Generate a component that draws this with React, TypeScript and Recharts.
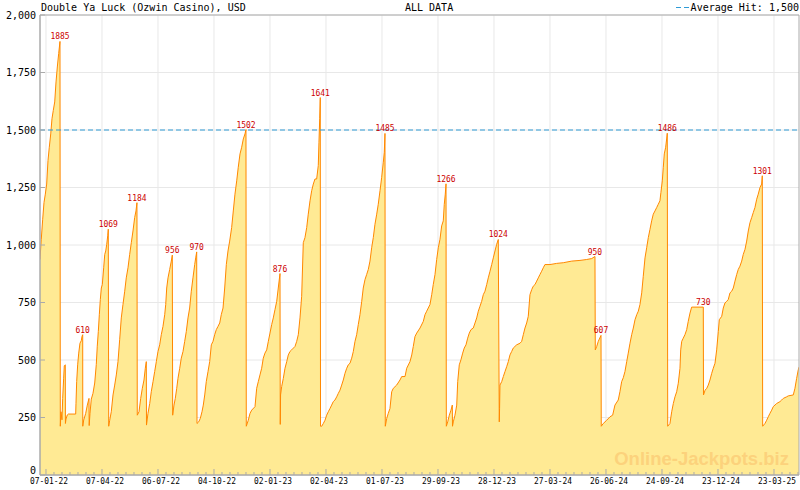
import { AreaChart, Area, XAxis, YAxis, CartesianGrid, ReferenceLine, ReferenceDot, ReferenceArea } from 'recharts'

// days since 07-01-22 and the jackpot amount (USD) on that day
const DAY = [
  -9.7, -7.6, -5.3, -3.2, -1.1, 1.1, 3.2, 5.3, 7.6, 9.6, 11.7, 14.0, 16.1, 18.2, 20.4, 22.5,
  23.0, 24.1, 25.7, 26.8, 28.4, 29.4, 31.0, 31.2, 32.1, 34.2, 35.8, 47.7, 48.2, 49.3, 50.9, 52.6, 54.6, 56.7, 57.9, 59.0,
  59.1, 60.6, 63.8, 66.4, 69.1, 69.4, 70.7, 72.8, 75.5, 78.3, 80.8, 82.4, 84.1, 85.7, 87.3, 88.9, 90.5, 92.7, 94.4, 96.0, 97.6, 99.2, 100.1,
  100.8, 102.4, 104.9, 107.7, 110.4, 113.0, 115.7, 118.4, 121.0, 123.7, 126.5, 129.0, 131.8, 134.5, 137.1, 139.8, 142.5, 144.6, 146.2,
  146.7, 149.5, 152.2, 154.8, 157.5, 159.6, 161.2, 161.5, 163.9, 166.7, 169.2, 172.0, 174.7, 177.3, 180.0, 182.7, 185.3, 188.0, 190.8, 192.4, 194.0, 196.1, 198.8, 201.4, 203.0,
  203.6, 205.7, 207.8, 210.1, 212.1, 214.9, 217.4, 220.2, 222.9, 225.5, 228.2, 230.9, 233.5, 236.2, 239.0, 240.6, 242.2,
  242.7, 245.4, 248.0, 250.7, 252.8, 255.1, 257.6, 260.4, 263.1, 265.7, 268.4, 271.1, 273.7, 276.4, 279.2, 281.7, 284.5, 287.2, 289.8, 292.5, 295.2, 298.4, 301.0, 303.7, 306.5, 309.0, 311.8, 314.5, 317.1, 319.8, 321.4,
  321.9, 325.1, 327.9, 330.6, 335.9, 338.6, 341.2, 343.9, 346.6, 349.2, 351.9, 354.7, 357.3, 360.0, 362.7, 365.3, 368.0, 370.8, 373.3, 376.1,
  376.5, 377.0, 378.8, 381.4, 384.1, 386.9, 389.4, 392.1, 394.8, 400.2, 402.9, 405.5, 408.2, 410.9, 413.5, 416.2, 419.0, 421.5, 424.3, 427.0, 429.6, 432.3, 435.0, 437.6, 438.7, 439.9, 440.8,
  441.2, 443.1, 445.7, 448.4, 451.1, 453.7, 456.4, 459.1, 461.7, 464.4, 467.2, 469.8, 472.5, 475.2, 477.8, 480.5, 483.3, 485.8, 488.6, 491.3, 493.9, 496.6, 499.3, 501.9, 504.6, 507.4, 509.9, 512.7, 515.4, 518.0, 520.7, 523.4, 526.0, 528.7, 531.5, 534.0, 536.8, 539.5, 542.1, 543.7, 544.8,
  545.3, 547.6, 550.1, 552.8, 555.6, 558.2, 563.6, 568.9, 571.7, 577.0, 579.7, 585.0, 587.8, 590.3, 593.0, 595.8, 601.1, 606.4, 609.1, 611.8, 617.1, 619.9, 622.4, 625.2, 627.9, 630.5, 633.2, 635.9, 638.5, 640.1, 641.7, 642.9,
  643.4, 645.6, 648.2, 650.9, 653.0, 653.3, 654.6, 657.3, 660.1, 661.7, 664.2, 666.9, 669.7, 672.2, 675.0, 677.7, 680.3, 683.0, 686.7, 689.5, 692.2, 694.8, 697.5, 700.2, 702.8, 705.5, 708.3, 710.8, 713.6, 716.3, 718.9, 721.6, 724.3, 726.9,
  728.5, 729.0, 729.6, 732.4, 735.0, 737.7, 740.4, 743.0, 745.7, 748.4, 751.0, 753.7, 756.5, 761.8, 764.5, 767.1, 769.8, 772.5, 775.1, 777.8, 780.6, 783.1, 785.9, 788.6, 791.2, 793.9, 796.6, 799.2, 801.9, 810.0, 820.7, 831.4, 844.9, 858.2, 869.0, 877.0, 882.3,
  882.8, 885.1, 887.6, 892.0,
  892.4, 895.6, 901.1, 906.4, 910.7, 914.4, 919.7, 922.4, 925.2, 927.8, 930.5, 933.3, 935.8, 938.6, 941.3, 943.9, 946.6, 949.4, 951.9, 954.6, 957.4, 959.9, 962.7, 965.4, 968.0, 970.7, 973.4, 976.0, 978.7, 981.5, 984.0, 986.7, 988.3, 990.5, 992.1, 993.7, 995.9, 997.5, 998.5,
  999.2, 1002.8, 1005.6, 1008.2, 1010.9, 1013.6, 1016.2, 1018.9, 1020.1, 1021.7, 1024.2, 1026.9, 1029.7, 1032.2, 1035.0, 1037.7, 1056.4,
  1056.7, 1059.3, 1062.0, 1064.4, 1067.1, 1069.9, 1072.4, 1075.2, 1077.9, 1080.5, 1082.1, 1086.0, 1088.5, 1091.2, 1094.0, 1096.5, 1099.3, 1102.0, 1104.6, 1107.3, 1110.1, 1112.6, 1115.3, 1118.1, 1120.6, 1123.4, 1126.1, 1128.7, 1131.4, 1134.1, 1136.7, 1139.4, 1142.2, 1144.7, 1147.5, 1150.2, 1151.2,
  1151.8, 1155.5, 1158.2, 1160.8, 1163.5, 1166.3, 1168.8, 1171.6, 1174.3, 1179.6, 1182.4, 1184.9, 1190.4, 1192.9, 1201.0, 1203.7, 1206.4, 1209.0, 1210.5,
]

const USD = [
  937, 1025, 1112, 1185, 1221, 1265, 1367, 1425, 1483, 1549, 1585, 1622, 1709, 1774, 1833, 1885,
  212, 275, 240, 333, 421, 475, 479, 224, 243, 261, 265, 265, 312, 406, 479, 530, 573, 584, 603, 610,
  212, 239, 268, 304, 333, 215, 268, 330, 355, 400, 480, 560, 624, 697, 763, 813, 828, 901, 959, 974, 1003, 1040, 1069,
  212, 238, 275, 348, 391, 435, 493, 588, 683, 741, 799, 857, 901, 959, 1010, 1061, 1119, 1148, 1184,
  260, 275, 333, 377, 413, 464, 493, 217, 268, 311, 362, 406, 450, 493, 537, 566, 610, 646, 697, 741, 813, 857, 894, 930, 956,
  260, 304, 333, 377, 420, 464, 508, 537, 581, 624, 683, 726, 799, 857, 915, 944, 970,
  224, 231, 246, 275, 304, 348, 406, 450, 493, 566, 581, 610, 632, 646, 661, 697, 726, 813, 915, 974, 1017, 1076, 1148, 1221, 1279, 1338, 1396, 1425, 1461, 1483, 1502,
  212, 238, 268, 282, 297, 377, 406, 435, 464, 508, 530, 544, 581, 617, 654, 683, 719, 755, 813, 876,
  220, 348, 385, 420, 464, 493, 522, 537, 544, 559, 581, 610, 683, 777, 1010, 1032, 1076, 1134, 1192, 1236, 1265, 1287, 1287, 1345, 1447, 1549, 1641,
  212, 212, 224, 238, 260, 275, 289, 304, 319, 326, 340, 355, 369, 391, 413, 442, 464, 479, 486, 508, 537, 581, 610, 654, 697, 755, 813, 850, 872, 894, 930, 988, 1032, 1090, 1134, 1177, 1236, 1294, 1360, 1403, 1485,
  212, 246, 268, 289, 362, 377, 391, 413, 428, 428, 464, 493, 522, 559, 602, 617, 639, 668, 697, 712, 741, 784, 828, 872, 937, 988, 1025, 1083, 1105, 1177, 1221, 1266,
  212, 231, 260, 282, 304, 212, 231, 260, 304, 406, 479, 501, 530, 552, 566, 595, 617, 632, 639, 661, 683, 712, 734, 755, 784, 799, 828, 857, 886, 915, 944, 974, 1003, 1024,
  231, 290, 391, 406, 428, 450, 471, 493, 522, 537, 552, 559, 566, 573, 581, 610, 639, 661, 690, 784, 806, 821, 828, 843, 857, 872, 886, 901, 915, 915, 920, 923, 930, 933, 937, 941, 950,
  544, 559, 581, 607,
  212, 224, 238, 253, 260, 304, 326, 362, 406, 423, 450, 493, 530, 573, 610, 639, 675, 697, 712, 741, 792, 864, 944, 988, 1032, 1068, 1105, 1134, 1148, 1163, 1177, 1192, 1229, 1279, 1338, 1396, 1425, 1461, 1486,
  212, 224, 275, 311, 340, 362, 399, 464, 544, 581, 595, 610, 632, 668, 704, 730, 730,
  348, 369, 377, 391, 413, 442, 464, 486, 544, 624, 675, 690, 726, 748, 755, 763, 792, 799, 813, 843, 872, 894, 908, 930, 959, 981, 1017, 1061, 1097, 1119, 1141, 1163, 1199, 1221, 1250, 1265, 1301,
  212, 224, 238, 253, 268, 282, 297, 304, 311, 319, 326, 333, 340, 344, 348, 377, 420, 457, 470,
]

// hits that carry a red label
const PEAK_DAY = [22.5, 59.0, 100.1, 146.2, 203.0, 242.2, 321.4, 376.1, 440.8, 544.8, 642.9, 726.9, 882.3, 892.0, 998.5, 1056.4, 1151.2]
const PEAK_USD = [1885, 610, 1069, 1184, 956, 970, 1502, 876, 1641, 1485, 1266, 1024, 950, 607, 1486, 730, 1301]

const TICK_LABELS = [
  '07-01-22', '07-04-22', '06-07-22', '04-10-22', '02-01-23', '02-04-23', '01-07-23',
  '29-09-23', '28-12-23', '27-03-24', '26-06-24', '24-09-24', '23-12-24', '23-03-25',
]
const Y_TICKS = [0, 250, 500, 750, 1000, 1250, 1500, 1750, 2000]
const AVERAGE_HIT = 1500

const STEP = 90
const MINOR = 7
const X_DOMAIN: [number, number] = [-9.64, 1210.2]

const MAJOR_DAYS = TICK_LABELS.map((_, i) => i * STEP)
const ALL_TICKS: number[] = []
for (let i = 0; i <= TICK_LABELS.length; i++) {
  for (let k = 0; k < MINOR; k++) {
    const d = i * STEP + (k * STEP) / MINOR
    if (d <= X_DOMAIN[1]) ALL_TICKS.push(d)
  }
}

const data = DAY.map((day, i) => ({ day, usd: USD[i] }))

const MONO = '"DejaVu Sans Mono", "Liberation Mono", monospace'
const AXIS = '#aaaaaa'
const BLUE = '#2f9bd6'
const fmt = (v: number) => v.toLocaleString('en-US')

const XTick = ({ x, y, payload }: any) => {
  const i = Math.round(payload.value / STEP)
  const major = Math.abs(payload.value - i * STEP) < 0.001
  return (
    <g>
      <line x1={x} x2={x} y1={y} y2={y - (major ? 6 : 3)} stroke={AXIS} />
      {major && (
        <text x={x + 3} y={y + 9} textAnchor="middle" fontSize={8.5} fontFamily={MONO} fill="#000"
          textLength={38} lengthAdjust="spacingAndGlyphs">
          {TICK_LABELS[i]}
        </text>
      )}
    </g>
  )
}

const YTick = ({ x, y, payload }: any) => (
  <g>
    <line x1={x} x2={x + 5} y1={y} y2={y} stroke={AXIS} />
    <text x={x - 4} y={payload.value === 0 ? y - 1.5 : y + 3.5} textAnchor="end" fontSize={10}
      fontFamily={MONO} fill="#000">
      {fmt(payload.value)}
    </text>
  </g>
)

const peakShape = (value: number) => (p: any) => {
  const s = String(value)
  return (
    <text x={p.cx} y={p.cy - 2} textAnchor="middle" fontSize={8} fontFamily={MONO} fill="#cc0000"
      textLength={s.length * 4.8} lengthAdjust="spacingAndGlyphs">
      {s}
    </text>
  )
}

export default function App() {
  return (
    <div style={{ position: 'absolute', left: 0, top: 0, width: 800, height: 490, background: '#fff' }}>
      <AreaChart width={800} height={490} data={data} margin={{ top: 15, right: 1, bottom: 0, left: 0 }}>
        <CartesianGrid stroke="#e8e8e8" verticalValues={MAJOR_DAYS} />
        <XAxis
          dataKey="day"
          type="number"
          domain={X_DOMAIN}
          allowDataOverflow
          ticks={ALL_TICKS}
          interval={0}
          height={15}
          tickSize={0}
          tickMargin={0}
          tickLine={false}
          axisLine={{ stroke: AXIS }}
          tick={<XTick />}
        />
        <YAxis
          type="number"
          domain={[0, 2000]}
          ticks={Y_TICKS}
          interval={0}
          width={40}
          tickSize={0}
          tickMargin={0}
          tickLine={false}
          axisLine={{ stroke: AXIS }}
          tick={<YTick />}
        />
        <Area
          type="linear"
          dataKey="usd"
          stroke="#ff8800"
          strokeWidth={1}
          fill="#ffea94"
          fillOpacity={1}
          dot={false}
          activeDot={false}
          isAnimationActive={false}
        />
        <ReferenceLine y={AVERAGE_HIT} stroke={BLUE} strokeDasharray="5 3" />
        <ReferenceArea x1={X_DOMAIN[0]} x2={X_DOMAIN[1]} y1={0} y2={2000} fill="none" stroke={AXIS} />
        {PEAK_DAY.map((d, i) => (
          <ReferenceDot key={i} x={d} y={PEAK_USD[i]} r={0} shape={peakShape(PEAK_USD[i])} />
        ))}
      </AreaChart>
      <svg width={800} height={490} style={{ position: 'absolute', left: 0, top: 0, pointerEvents: 'none' }}>
        <text x={41} y={11} fontSize={10} fontFamily={MONO} fill="#000">Double Ya Luck (Ozwin Casino), USD</text>
        <text x={405} y={11} fontSize={10} fontFamily={MONO} fill="#000">ALL DATA</text>
        <line x1={676} x2={690} y1={7.5} y2={7.5} stroke={BLUE} strokeDasharray="5 3" />
        <text x={799} y={11} textAnchor="end" fontSize={10} fontFamily={MONO} fill="#000">
          Average Hit: {fmt(AVERAGE_HIT)}
        </text>
        <text x={789} y={465} textAnchor="end" fontSize={18.5} fontWeight="bold"
          fontFamily='"Liberation Sans", Arial, sans-serif' fill="#fcd27c">
          Online-Jackpots.biz
        </text>
      </svg>
    </div>
  )
}
